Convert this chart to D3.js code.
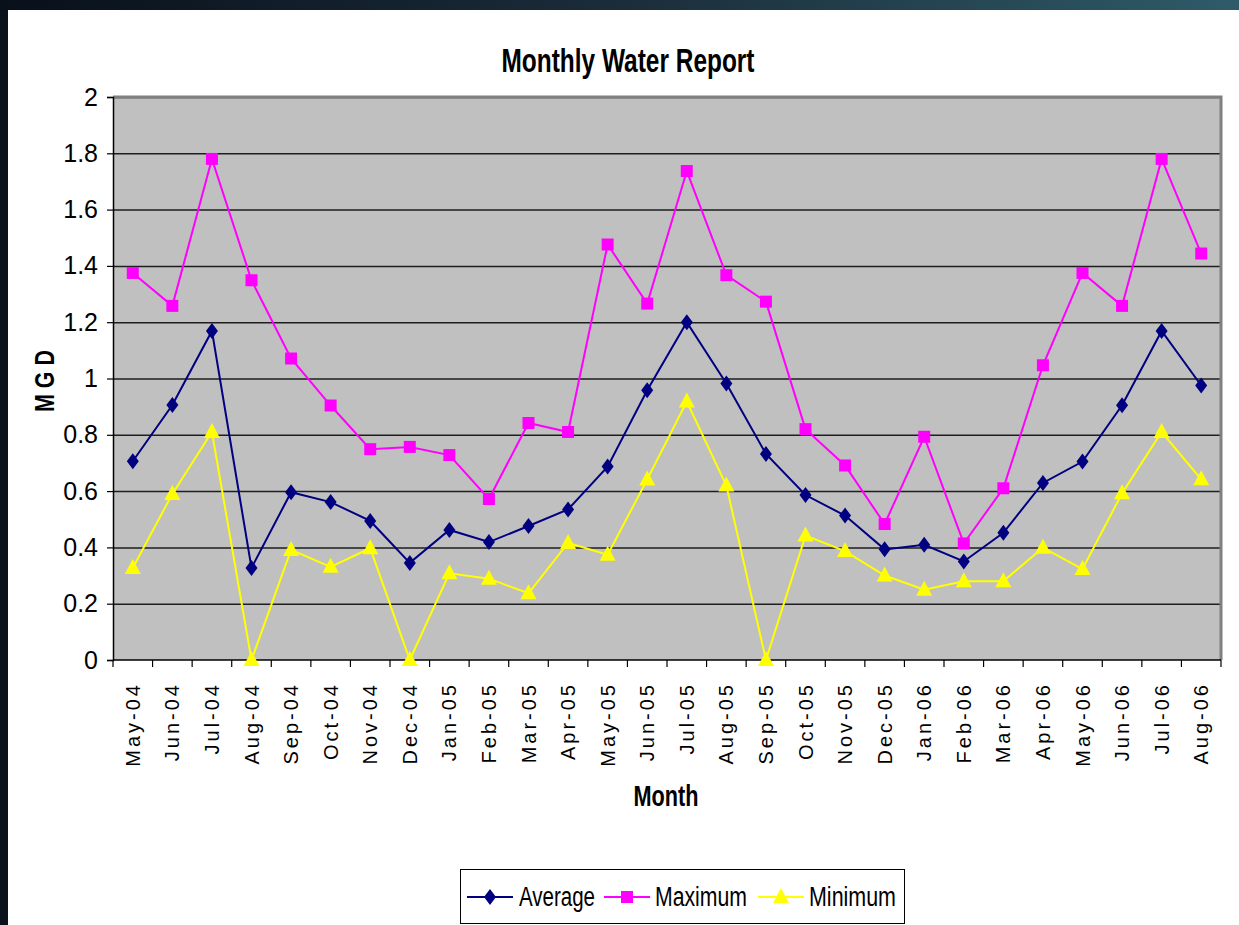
<!DOCTYPE html>
<html>
<head>
<meta charset="utf-8">
<script src="https://cdnjs.cloudflare.com/ajax/libs/d3/7.8.5/d3.min.js"></script>
<style>
  html, body { margin: 0; padding: 0; background: #fff; }
  svg { display: block; font-family: "Liberation Sans", Arial, sans-serif; }
</style>
</head>
<body>
<svg id="chart" width="1239" height="925"></svg>
<script>
var months = ["May-04", "Jun-04", "Jul-04", "Aug-04", "Sep-04", "Oct-04", "Nov-04", "Dec-04",
    "Jan-05", "Feb-05", "Mar-05", "Apr-05", "May-05", "Jun-05", "Jul-05", "Aug-05",
    "Sep-05", "Oct-05", "Nov-05", "Dec-05", "Jan-06", "Feb-06", "Mar-06", "Apr-06",
    "May-06", "Jun-06", "Jul-06", "Aug-06"];

var average = [0.706, 0.906, 1.169, 0.327, 0.596, 0.561, 0.494, 0.345,
    0.462, 0.419, 0.476, 0.535, 0.687, 0.958, 1.200, 0.982,
    0.732, 0.586, 0.513, 0.393, 0.409, 0.350, 0.452, 0.629,
    0.705, 0.905, 1.169, 0.975];

var maximum = [1.375, 1.258, 1.780, 1.349, 1.071, 0.904, 0.749, 0.757,
    0.728, 0.572, 0.842, 0.810, 1.476, 1.266, 1.737, 1.367,
    1.273, 0.820, 0.691, 0.483, 0.793, 0.414, 0.610, 1.047,
    1.375, 1.258, 1.780, 1.444];

var minimum = [0.327, 0.590, 0.810, 0, 0.391, 0.331, 0.397, 0,
    0.308, 0.289, 0.237, 0.416, 0.374, 0.641, 0.918, 0.620,
    0, 0.442, 0.387, 0.300, 0.250, 0.280, 0.280, 0.399,
    0.323, 0.592, 0.810, 0.642];

var yTicks = [0, 0.2, 0.4, 0.6, 0.8, 1, 1.2, 1.4, 1.6, 1.8, 2];

var seriesNames = ["Average", "Maximum", "Minimum"];

var W = 1239, H = 925;
var margin = { top: 97, right: 18, bottom: 265, left: 113 },
    width = W - margin.left - margin.right,
    height = H - margin.top - margin.bottom;

var svg = d3.select("#chart");

// dark frame round the slide
var grad = svg.append("defs").append("linearGradient")
    .attr("id", "frame").attr("x1", "0").attr("x2", "1").attr("y1", "0").attr("y2", "0");
grad.append("stop").attr("offset", "0").attr("stop-color", "#08101a");
grad.append("stop").attr("offset", "0.5").attr("stop-color", "#1b2c3a");
grad.append("stop").attr("offset", "1").attr("stop-color", "#2f5b68");
svg.append("rect").attr("width", W).attr("height", H).attr("fill", "url(#frame)");
svg.append("rect").attr("x", 0).attr("y", 10).attr("width", 8).attr("height", H - 10).attr("fill", "#0a121c");
svg.append("rect").attr("x", 8).attr("y", 10).attr("width", W - 8).attr("height", H - 10).attr("fill", "#ffffff");

var x = d3.scaleBand().domain(months).range([0, width]);
var y = d3.scaleLinear().domain([0, 2]).range([height, 0]);

var g = svg.append("g").attr("transform", "translate(" + margin.left + "," + margin.top + ")");

// plot area
g.append("rect").attr("width", width).attr("height", height).attr("fill", "#c0c0c0");

// gridlines
g.append("g")
    .call(d3.axisLeft(y).tickValues(yTicks.slice(1)).tickSize(-width).tickFormat(""))
    .call(function (s) {
        s.select(".domain").remove();
        s.selectAll("line").attr("stroke", "#1e1e1e").attr("stroke-width", 1.5);
    });

// gray border top / right
g.append("path")
    .attr("d", "M0,0H" + width + "V" + height)
    .attr("fill", "none").attr("stroke", "#808080").attr("stroke-width", 3);

// y axis
g.append("g")
    .call(d3.axisLeft(y).tickValues(yTicks).tickSize(6).tickPadding(9).tickFormat(d3.format("")))
    .call(function (s) {
        s.select(".domain").attr("stroke", "#000").attr("stroke-width", 1.5);
        s.selectAll("line").attr("stroke", "#000").attr("stroke-width", 1.2);
        s.selectAll("text").attr("font-size", 25).attr("fill", "#000")
            .attr("font-family", "Liberation Sans, Arial, sans-serif");
    });

// x axis: ticks on band boundaries
var xAxis = g.append("g").attr("transform", "translate(0," + height + ")");
xAxis.append("line").attr("x1", 0).attr("x2", width).attr("stroke", "#000").attr("stroke-width", 1.5);
xAxis.selectAll(".tk")
    .data(months.concat(["end"]))
    .enter().append("line")
    .attr("x1", function (d, i) { return i * x.step(); })
    .attr("x2", function (d, i) { return i * x.step(); })
    .attr("y1", 0).attr("y2", 7)
    .attr("stroke", "#000").attr("stroke-width", 1.2);
xAxis.selectAll(".lbl")
    .data(months)
    .enter().append("text")
    .attr("transform", function (d) {
        return "translate(" + (x(d) + x.bandwidth() / 2 + 7) + ",22) rotate(-90)";
    })
    .attr("text-anchor", "end")
    .attr("font-size", 20)
    .attr("letter-spacing", "3px")
    .attr("fill", "#000")
    .text(function (d) { return d; });

// titles
svg.append("text")
    .attr("x", 628).attr("y", 72)
    .attr("text-anchor", "middle")
    .attr("font-size", 33).attr("font-weight", "bold")
    .attr("textLength", 253).attr("lengthAdjust", "spacingAndGlyphs")
    .text("Monthly Water Report");

svg.append("text")
    .attr("x", 666).attr("y", 806)
    .attr("text-anchor", "middle")
    .attr("font-size", 29).attr("font-weight", "bold")
    .attr("textLength", 65).attr("lengthAdjust", "spacingAndGlyphs")
    .text("Month");

svg.append("text")
    .attr("transform", "translate(54,381) rotate(-90)")
    .attr("text-anchor", "middle")
    .attr("font-size", 27).attr("font-weight", "bold")
    .attr("textLength", 62).attr("lengthAdjust", "spacingAndGlyphs")
    .text("M G D");

// series
var symbols = {
    Average: "M0,-8L6,0L0,8L-6,0Z",
    Maximum: "M-6,-6H6V6H-6Z",
    Minimum: "M0,-9L8,6H-8Z"
};
var colors = { Average: "#000080", Maximum: "#ff00ff", Minimum: "#ffff00" };
var values = { Average: average, Maximum: maximum, Minimum: minimum };

var line = d3.line()
    .x(function (d, i) { return x(months[i]) + x.bandwidth() / 2; })
    .y(function (d) { return y(d); });

["Minimum", "Maximum", "Average"].forEach(function (name) {
    var sg = g.append("g").attr("class", "series");
    sg.append("path")
        .attr("d", line(values[name]))
        .attr("fill", "none")
        .attr("stroke", colors[name])
        .attr("stroke-width", 2);
    sg.selectAll(".pt")
        .data(values[name])
        .enter().append("path")
        .attr("d", symbols[name])
        .attr("transform", function (d, i) {
            return "translate(" + (x(months[i]) + x.bandwidth() / 2) + "," + y(d) + ")";
        })
        .attr("fill", colors[name]);
});

// legend
var legend = svg.append("g");
legend.append("rect")
    .attr("x", 460.5).attr("y", 869.5).attr("width", 444).attr("height", 54)
    .attr("fill", "#fff").attr("stroke", "#000").attr("stroke-width", 1);

var legendItems = [
    { name: "Average", x0: 467, tx: 519, tw: 76 },
    { name: "Maximum", x0: 604, tx: 655, tw: 92 },
    { name: "Minimum", x0: 758, tx: 809, tw: 87 }
];
var li = legend.selectAll(".li").data(legendItems).enter().append("g");
li.append("line")
    .attr("x1", function (d) { return d.x0; })
    .attr("x2", function (d) { return d.x0 + 46; })
    .attr("y1", 897).attr("y2", 897)
    .attr("stroke", function (d) { return colors[d.name]; })
    .attr("stroke-width", 2);
li.append("path")
    .attr("d", function (d) { return symbols[d.name]; })
    .attr("transform", function (d) { return "translate(" + (d.x0 + 23) + ",897)"; })
    .attr("fill", function (d) { return colors[d.name]; });
li.append("text")
    .attr("x", function (d) { return d.tx; })
    .attr("y", 906)
    .attr("font-size", 27)
    .attr("textLength", function (d) { return d.tw; })
    .attr("lengthAdjust", "spacingAndGlyphs")
    .text(function (d) { return d.name; });
</script>
</body>
</html>
